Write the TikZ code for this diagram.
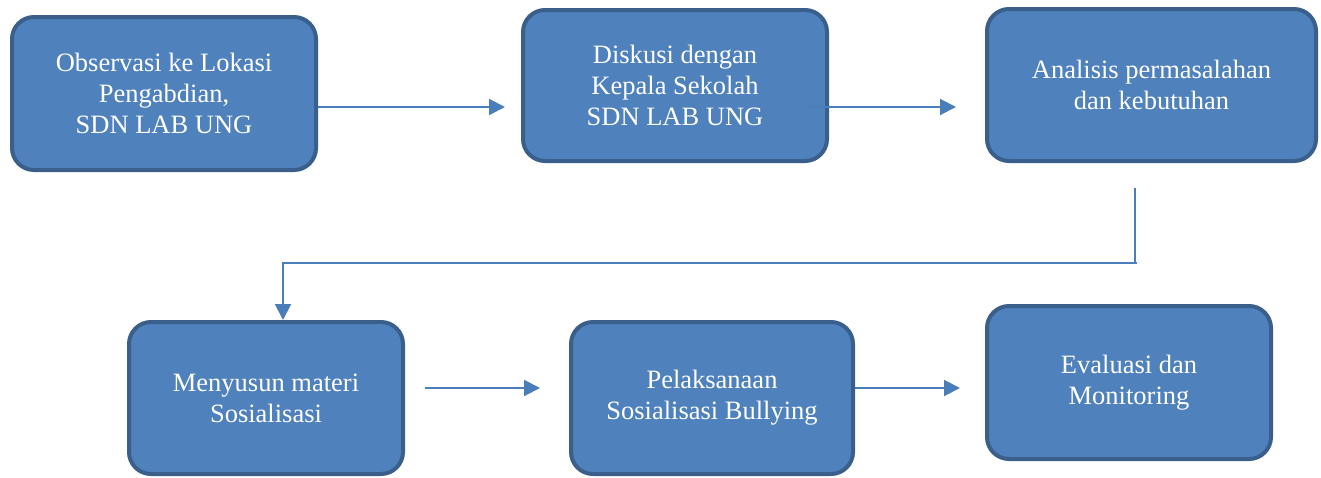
\documentclass[tikz,border=0pt]{standalone}
\usepackage{fontspec}
\setmainfont{Liberation Serif}
\usetikzlibrary{arrows.meta}
\definecolor{boxfill}{HTML}{4F81BD}
\definecolor{boxdraw}{HTML}{3A5F8B}
\definecolor{arrowc}{HTML}{4A7EBB}
\begin{document}
\begin{tikzpicture}[x=1pt,y=-1pt,
  flowbox/.style={draw=boxdraw, line width=4pt, fill=boxfill, rounded corners=22pt,
    text=white, align=center, inner sep=0pt,
    font=\fontsize{26.5}{31}\selectfont,
    execute at begin node={\rule{0pt}{28pt}}},
  flowarrow/.style={draw=arrowc, line width=2pt, -{Triangle[length=16pt,width=16pt]}},
  flowline/.style={draw=arrowc, line width=2pt}]
\useasboundingbox (0,0) rectangle (1321,477);
\node[flowbox, minimum width=304pt, minimum height=153pt] (b1) at (164,93.5)
  {Observasi ke Lokasi\\Pengabdian,\\SDN LAB UNG};
\node[flowbox, minimum width=304pt, minimum height=151pt] (b2) at (675,85.5)
  {Diskusi dengan\\Kepala Sekolah\\SDN LAB UNG};
\node[flowbox, minimum width=329pt, minimum height=152pt] (b3) at (1151.5,85)
  {Analisis permasalahan\\dan kebutuhan};
\node[flowbox, minimum width=274pt, minimum height=152pt] (b4) at (266,398)
  {Menyusun materi\\Sosialisasi};
\node[flowbox, minimum width=282pt, minimum height=152pt] (b5) at (712,398)
  {Pelaksanaan\\Sosialisasi Bullying};
\node[flowbox, minimum width=284pt, minimum height=153pt] (b6) at (1129,382.5)
  {Evaluasi dan\\Monitoring};
% arrow coordinates
\coordinate (a1s) at (318,107);
\coordinate (a1e) at (505,107);
\coordinate (a2s) at (807,107);
\coordinate (a2e) at (956,107);
\coordinate (a3s) at (1135,188);
\coordinate (a3c) at (1137,263);
\coordinate (a3d) at (283,263);
\coordinate (a3e) at (283,320);
\coordinate (a4s) at (425,388);
\coordinate (a4e) at (540,388);
\coordinate (a5s) at (855,388);
\coordinate (a5e) at (960,388);
\draw[flowarrow] (a1s) -- (a1e);
\draw[flowarrow] (a2s) -- (a2e);
\draw[flowline] (a3s) -- (a3s |- a3c);
\draw[flowarrow] (a3c) -- (a3d) -- (a3e);
\draw[flowarrow] (a4s) -- (a4e);
\draw[flowarrow] (a5s) -- (a5e);
\end{tikzpicture}
\end{document}
